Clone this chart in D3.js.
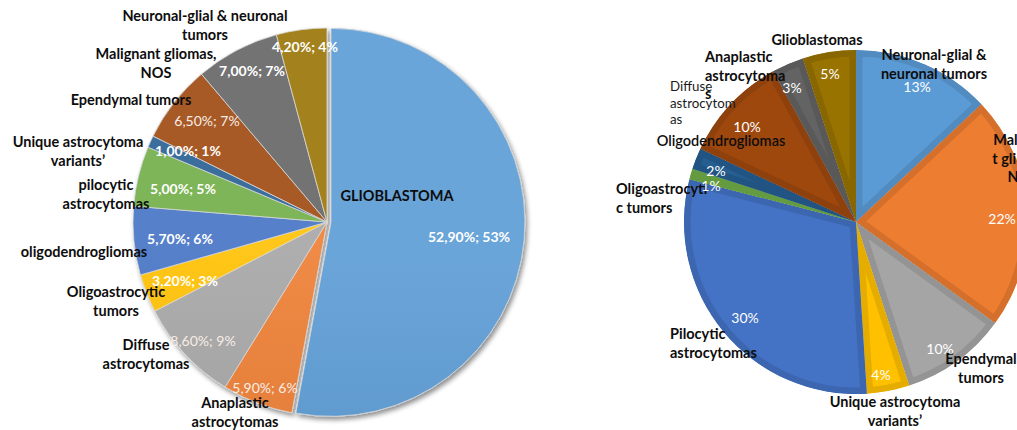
<!DOCTYPE html>
<html>
<head>
<meta charset="utf-8">
<script src="https://cdn.jsdelivr.net/npm/d3@7"></script>
<style>
  body { margin: 0; background: #fff; }
  svg { display: block; font-family: Lato, "Open Sans", sans-serif; }
</style>
</head>
<body>
<svg id="chart" width="1017" height="430"></svg>
<script>
// ---- Adult glioma distribution (left pie) ----
const adultTypes = [
  "GLIOBLASTOMA", "Anaplastic astrocytomas", "Diffuse astrocytomas",
  "Oligoastrocytic tumors", "oligodendrogliomas", "pilocytic astrocytomas",
  "Unique astrocytoma variants’", "Ependymal tumors", "Malignant gliomas, NOS",
  "Neuronal-glial & neuronal tumors"
];
const adultShares = [52.9, 5.9, 8.6, 3.2, 5.7, 5.0, 1.0, 6.5, 7.0, 4.2];
const adultValueLabels = [
  "52,90%; 53%", "5,90%; 6%", "8,60%; 9%", "3,20%; 3%", "5,70%; 6%",
  "5,00%; 5%", "1,00%; 1%", "6,50%; 7%", "7,00%; 7%", "4,20%; 4%"
];

// ---- Paediatric glioma distribution (right pie) ----
const childTypes = [
  "Neuronal-glial & neuronal tumors", "Malignant gliomas, NOS", "Ependymal tumors",
  "Unique astrocytoma variants’", "Pilocytic astrocytomas", "Oligoastrocytic tumors",
  "Oligodendrogliomas", "Diffuse astrocytomas", "Anaplastic astrocytomas", "Glioblastomas"
];
const childShares = [13, 22, 10, 4, 30, 1, 2, 10, 3, 5];
const childValueLabels = ["13%", "22%", "10%", "4%", "30%", "1%", "2%", "10%", "3%", "5%"];

const palette = ["#5B9BD5", "#ED7D31", "#A5A5A5", "#FFC000", "#4472C4",
                 "#70AD47", "#255E91", "#9E480E", "#636363", "#997300"];

// ---- layout ----
const LEFT = { cx: 327, cy: 222, r: 194, explode: 4 };
const RIGHT = { cx: 856, cy: 222, r: 172, band: 13 };
const LABEL_SIZE = 14.5, VALUE_SIZE = 14, LINE_H = 18.5;

// category label placement: anchor point, alignment, line breaks (char index)
const adultLabelLayout = [
  { x: 397, y: 201, anchor: "middle", breaks: [] },
  { x: 235, y: 408, anchor: "middle", breaks: [10] },
  { x: 146, y: 350, anchor: "middle", breaks: [7] },
  { x: 116, y: 297, anchor: "middle", breaks: [15] },
  { x: 84,  y: 257, anchor: "middle", breaks: [] },
  { x: 106, y: 190, anchor: "middle", breaks: [9] },
  { x: 78,  y: 147, anchor: "middle", breaks: [18] },
  { x: 131, y: 105, anchor: "middle", breaks: [] },
  { x: 156, y: 59,  anchor: "middle", breaks: [18] },
  { x: 205, y: 21,  anchor: "middle", breaks: [25] }
];
const adultValueLayout = [
  { x: 469, y: 242, bold: true },  { x: 265, y: 393, bold: false },
  { x: 203, y: 346, bold: false }, { x: 185, y: 286, bold: true },
  { x: 180, y: 244, bold: true },  { x: 183, y: 194, bold: true },
  { x: 188, y: 156, bold: true },  { x: 207, y: 126, bold: false },
  { x: 252, y: 76,  bold: true },  { x: 305, y: 52,  bold: true }
];

const childLabelLayout = [
  { x: 934, y: 60,  anchor: "middle", breaks: [16], bold: true },
  { x: 1023, y: 145, anchor: "middle", breaks: [8, 18], bold: true },
  { x: 981, y: 364, anchor: "middle", breaks: [9], bold: true },
  { x: 895, y: 407, anchor: "middle", breaks: [18], bold: true },
  { x: 670, y: 339, anchor: "start", breaks: [9], bold: true },
  { x: 616, y: 194, anchor: "start", breaks: [14], bold: true },
  { x: 721, y: 146, anchor: "middle", breaks: [], bold: "semi" },
  { x: 670, y: 91,  anchor: "start", breaks: [7, 18], bold: false, size: 13.3, lh: 16.5 },
  { x: 705, y: 62,  anchor: "start", breaks: [10, 22], bold: true },
  { x: 817, y: 45,  anchor: "middle", breaks: [], bold: true }
];
const childValueLayout = [
  { x: 917, y: 92 },  { x: 1002, y: 224 }, { x: 940, y: 354 }, { x: 881, y: 380 },
  { x: 745, y: 323 }, { x: 711, y: 191 },  { x: 716, y: 176 }, { x: 747, y: 132 },
  { x: 792, y: 93 },  { x: 830, y: 79 }
];

const svg = d3.select("#chart");
const defs = svg.append("defs");

// soft shadow under the left pie
const shadow = defs.append("filter").attr("id", "pieShadow")
  .attr("x", "-10%").attr("y", "-10%").attr("width", "120%").attr("height", "120%");
shadow.append("feGaussianBlur").attr("in", "SourceAlpha").attr("stdDeviation", 2.5).attr("result", "blur");
shadow.append("feOffset").attr("in", "blur").attr("dx", 2).attr("dy", 3).attr("result", "off");
shadow.append("feComponentTransfer").attr("in", "off").attr("result", "soft")
  .append("feFuncA").attr("type", "linear").attr("slope", 0.45);
const merge = shadow.append("feMerge");
merge.append("feMergeNode").attr("in", "soft");
merge.append("feMergeNode").attr("in", "SourceGraphic");

// vertical gradients (lighter top, darker bottom) for the left pie
palette.forEach((c, i) => {
  const g = defs.append("linearGradient").attr("id", "grad" + i)
    .attr("gradientUnits", "userSpaceOnUse")
    .attr("x1", 0).attr("x2", 0)
    .attr("y1", LEFT.cy - LEFT.r).attr("y2", LEFT.cy + LEFT.r);
  g.append("stop").attr("offset", "0%").attr("stop-color", d3.interpolateRgb(c, "#fff")(0.1));
  g.append("stop").attr("offset", "100%").attr("stop-color", d3.color(c).darker(0.25).formatHex());
});

function splitLines(text, breaks) {
  const pts = [0, ...breaks, text.length];
  const out = [];
  for (let i = 0; i < pts.length - 1; i++) {
    const s = text.slice(pts[i], pts[i + 1]).trim();
    if (s) out.push(s);
  }
  return out;
}

function drawLabels(g, names, layout) {
  names.forEach((name, i) => {
    const L = layout[i];
    const lines = splitLines(name, L.breaks);
    const size = L.size || LABEL_SIZE;
    const lh = L.lh || LINE_H;
    const weight = L.bold === false ? 400 : (L.bold === "semi" ? 600 : 700);
    const t = g.append("text")
      .attr("x", L.x).attr("y", L.y)
      .attr("text-anchor", L.anchor)
      .attr("font-size", size)
      .attr("font-weight", weight)
      .attr("fill", L.bold === false ? "#1a1a1a" : "#0d0d0d");
    lines.forEach((ln, k) => {
      t.append("tspan").attr("x", L.x).attr("y", L.y + k * lh).text(ln);
    });
  });
}

// ---------- left pie ----------
const pie = d3.pie().sort(null).value(d => d);
const leftArcs = pie(adultShares);
const leftArc = d3.arc().innerRadius(0).outerRadius(LEFT.r);

const leftG = svg.append("g")
  .attr("transform", `translate(${LEFT.cx},${LEFT.cy})`)
  .attr("filter", "url(#pieShadow)");

leftG.selectAll("path.slice")
  .data(leftArcs)
  .join("path")
  .attr("class", "slice")
  .attr("d", leftArc)
  .attr("transform", (d, i) => {
    if (i !== 0) return null;
    const a = (d.startAngle + d.endAngle) / 2;
    return `translate(${LEFT.explode * Math.sin(a)},${-LEFT.explode * Math.cos(a)})`;
  })
  .attr("fill", (d, i) => `url(#grad${i})`)
  .attr("stroke", "#d9d9d9")
  .attr("stroke-width", 0.8)
  .attr("stroke-linejoin", "round");

const leftText = svg.append("g");
drawLabels(leftText, adultTypes, adultLabelLayout);
leftText.selectAll("text.val")
  .data(adultValueLabels)
  .join("text")
  .attr("class", "val")
  .attr("x", (d, i) => adultValueLayout[i].x)
  .attr("y", (d, i) => adultValueLayout[i].y)
  .attr("text-anchor", "middle")
  .attr("font-size", VALUE_SIZE)
  .attr("font-weight", (d, i) => adultValueLayout[i].bold ? 700 : 400)
  .attr("fill", (d, i) => adultValueLayout[i].bold ? "#fff" : "#f7ece6")
  .text(d => d);

// ---------- right pie ----------
const rightArcs = pie(childShares);
const rightArc = d3.arc().innerRadius(0).outerRadius(RIGHT.r);
const rightG = svg.append("g")
  .attr("transform", `translate(${RIGHT.cx},${RIGHT.cy})`);

rightArcs.forEach((d, i) => {
  defs.append("clipPath").attr("id", "clip" + i)
    .append("path").attr("d", rightArc(d));
});

rightG.selectAll("path.slice")
  .data(rightArcs)
  .join("path")
  .attr("class", "slice")
  .attr("d", rightArc)
  .attr("fill", (d, i) => palette[i])
  .attr("stroke", (d, i) => d3.color(palette[i]).darker(0.3).formatHex())
  .attr("stroke-width", RIGHT.band)
  .attr("stroke-linejoin", "miter")
  .attr("clip-path", (d, i) => `url(#clip${i})`);

const rightText = svg.append("g");
drawLabels(rightText, childTypes, childLabelLayout);
rightText.selectAll("text.val")
  .data(childValueLabels)
  .join("text")
  .attr("class", "val")
  .attr("x", (d, i) => childValueLayout[i].x)
  .attr("y", (d, i) => childValueLayout[i].y)
  .attr("text-anchor", "middle")
  .attr("font-size", VALUE_SIZE)
  .attr("fill", "#fff")
  .text(d => d);
</script>
</body>
</html>
